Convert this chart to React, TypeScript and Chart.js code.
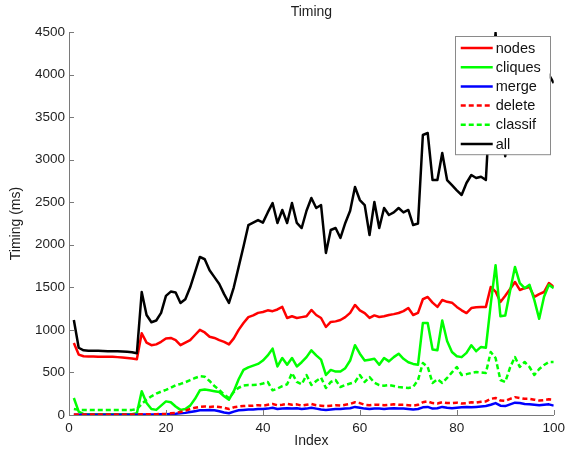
import React, { useEffect, useRef } from 'react';
import { Chart, registerables } from 'chart.js';

Chart.register(...registerables);

const indices = Array.from({ length: 100 }, (_, i) => i + 1);

const nodes = [
  845, 710, 690, 688, 686, 685, 685, 684, 683, 680,
  675, 670, 665, 655, 960, 850, 820, 830, 860, 900,
  905, 880, 820, 850, 880, 940, 1000, 970, 920, 905,
  880, 860, 830, 900, 1000, 1080, 1150, 1170, 1200, 1210,
  1230, 1220, 1240, 1270, 1140, 1160, 1140, 1150, 1160, 1234,
  1175, 1140, 1034, 1093, 1100, 1116, 1150, 1200, 1293, 1230,
  1198, 1140, 1170, 1152, 1160, 1175, 1185, 1198, 1220, 1257,
  1175, 1200, 1360, 1387, 1320, 1270, 1351, 1330, 1320, 1270,
  1230, 1198, 1257, 1265, 1270, 1270, 1504, 1450, 1328, 1400,
  1480, 1563, 1469, 1490, 1504, 1387, 1420, 1445, 1551, 1504,
];

const cliques = [
  200, 40, 10, 10, 10, 10, 10, 10, 10, 10,
  10, 10, 10, 20, 280, 140, 70, 60, 110, 160,
  150, 100, 60, 70, 110, 190, 290, 300, 290, 280,
  270, 220, 180, 280, 420, 530, 560, 580, 600, 640,
  700, 780, 570, 670, 590, 670, 570, 620, 680, 760,
  700, 650, 470, 530, 510, 510, 550, 640, 820, 720,
  640, 650, 660, 590, 670, 630, 680, 720, 660, 620,
  600, 590, 1080, 1080, 770, 760, 1110, 870, 740, 690,
  680, 730, 820, 750, 800, 790, 1300, 1760, 1160, 1170,
  1460, 1740, 1550, 1490, 1530, 1350, 1130, 1390, 1530, 1490,
];

const merge = [
  3, 3, 3, 3, 3, 3, 3, 3, 3, 3,
  3, 3, 3, 3, 5, 5, 5, 5, 8, 10,
  12, 15, 20, 25, 35, 45, 55, 55, 60, 55,
  45, 30, 20, 40, 55, 60, 65, 65, 70, 70,
  75, 85, 70, 75, 80, 75, 80, 70, 75, 85,
  75, 65, 60, 65, 70, 70, 75, 80, 95, 85,
  75, 70, 75, 75, 70, 75, 80, 75, 75, 70,
  65, 70, 90, 95, 75, 80, 95, 85, 80, 85,
  90, 95, 90, 95, 100, 105, 120, 140, 110, 105,
  125, 145, 140, 130, 125, 120, 115, 120, 125, 110,
];

const deleteT = [
  5, 5, 5, 5, 5, 5, 5, 5, 5, 5,
  5, 5, 5, 5, 8, 8, 8, 10, 12, 15,
  20, 25, 35, 50, 70, 85, 95, 100, 95, 100,
  95, 85, 70, 90, 100, 105, 110, 110, 115, 110,
  120, 130, 115, 120, 130, 120, 125, 110, 120, 130,
  115, 110, 105, 110, 115, 110, 120, 130, 150, 140,
  120, 115, 120, 120, 115, 120, 125, 120, 120, 115,
  110, 120, 150, 160, 140, 135, 150, 140, 140, 145,
  135, 140, 150, 145, 155, 160, 190, 200, 170, 165,
  190, 210, 200, 190, 190, 180, 170, 175, 185, 180,
];

const classif = [
  70, 60, 60, 60, 60, 60, 60, 60, 60, 60,
  60, 60, 60, 70, 130, 180, 220, 250, 275, 295,
  320, 350, 365, 385, 410, 435, 455, 450, 400, 340,
  295, 240, 200, 270, 320, 345, 352, 352, 355, 370,
  388, 290, 310, 340, 360, 494, 388, 360, 470, 352,
  400, 440, 317, 388, 411, 329, 352, 370, 388, 470,
  388, 446, 380, 352, 345, 352, 340, 329, 322, 317,
  330, 411, 611, 564, 376, 420, 376, 435, 500, 564,
  470, 480, 494, 505, 500, 494, 740, 670, 411, 388,
  560, 681, 564, 623, 564, 470, 540, 588, 623, 623,
];

const all = [
  1116, 790, 760, 755, 755, 755, 752, 750, 750, 748,
  745, 742, 738, 725, 1445, 1175, 1090, 1110, 1200, 1400,
  1450, 1440, 1316, 1360, 1500, 1680, 1857, 1830, 1700, 1620,
  1540, 1420, 1316, 1500, 1740, 1980, 2230, 2260, 2290, 2260,
  2380, 2490, 2256, 2409, 2256, 2490, 2256, 2197, 2400, 2550,
  2432, 2467, 1904, 2174, 2197, 2080, 2256, 2400, 2679, 2526,
  2467, 2115, 2503, 2197, 2432, 2350, 2380, 2432, 2380, 2409,
  2232, 2250, 3290, 3313, 2760, 2760, 3078, 2760, 2700, 2640,
  2585, 2726, 2820, 2785, 2800, 2761, 3800, 4490, 3500, 3040,
  3700, 4250, 3950, 3900, 3900, 3580, 3370, 3750, 4000, 3900,
];

const seriesLabels = ['nodes', 'cliques', 'merge', 'delete', 'classif', 'all'];
const seriesColors = ['#ff0000', '#00ff00', '#0000ff', '#ff0000', '#00ff00', '#000000'];
const seriesDashed = [false, false, false, true, true, false];
const seriesValues = [nodes, cliques, merge, deleteT, classif, all];

const xMin = 0;
const xMax = 100;
const xStep = 20;
const yMin = 0;
const yMax = 4500;
const yStep = 500;

const FONT = "Arial, 'Liberation Sans', Helvetica, sans-serif";
const TEXT = '#1e1e1e';
const AXIS = '#7a7a7a';

export default function App() {
  const ref = useRef<HTMLCanvasElement | null>(null);

  useEffect(() => {
    if (!ref.current) return;

    const inwardTicks = {
      id: 'inwardTicks',
      afterDraw(chart: any) {
        const { ctx, chartArea, scales } = chart;
        ctx.save();
        ctx.strokeStyle = AXIS;
        ctx.lineWidth = 1;
        const len = 5;
        scales.x.ticks.forEach((t: any) => {
          const px = Math.round(scales.x.getPixelForValue(t.value)) + 0.5;
          ctx.beginPath();
          ctx.moveTo(px, chartArea.bottom);
          ctx.lineTo(px, chartArea.bottom - len);
          ctx.stroke();
        });
        scales.y.ticks.forEach((t: any) => {
          const py = Math.round(scales.y.getPixelForValue(t.value)) + 0.5;
          ctx.beginPath();
          ctx.moveTo(chartArea.left, py);
          ctx.lineTo(chartArea.left + len, py);
          ctx.stroke();
        });
        ctx.restore();
      },
    };

    const boxLegend = {
      id: 'boxLegend',
      afterDraw(chart: any) {
        const { ctx, chartArea } = chart;
        const sets = chart.data.datasets;
        const rowH = 19.2;
        const boxW = 95;
        const boxH = rowH * sets.length + 3;
        const bx = chartArea.right - 4 - boxW;
        const by = chartArea.top + 4;
        ctx.save();
        ctx.fillStyle = '#ffffff';
        ctx.fillRect(bx, by, boxW, boxH);
        ctx.strokeStyle = '#8a8a8a';
        ctx.lineWidth = 1;
        ctx.strokeRect(Math.round(bx) + 0.5, Math.round(by) + 0.5, boxW, boxH);
        ctx.font = `14.5px ${FONT}`;
        ctx.textBaseline = 'middle';
        ctx.textAlign = 'left';
        sets.forEach((ds: any, i: number) => {
          const cy = by + 12 + i * rowH;
          ctx.strokeStyle = ds.borderColor;
          ctx.lineWidth = 2.5;
          ctx.setLineDash(ds.borderDash || []);
          ctx.beginPath();
          ctx.moveTo(bx + 6, cy);
          ctx.lineTo(bx + 38, cy);
          ctx.stroke();
          ctx.setLineDash([]);
          ctx.fillStyle = '#111';
          ctx.fillText(ds.label, bx + 41, cy + 0.5);
        });
        ctx.restore();
      },
    };

    const datasets = seriesLabels.map((label, i) => ({
      label,
      data: seriesValues[i].map((v, j) => ({ x: indices[j], y: v })),
      borderColor: seriesColors[i],
      backgroundColor: seriesColors[i],
      borderWidth: 2.5,
      borderDash: seriesDashed[i] ? [5, 3] : [],
      pointRadius: 0,
      tension: 0,
      fill: false,
      borderJoinStyle: 'round' as const,
      order: seriesLabels.length - i,
    }));

    const chart = new Chart(ref.current, {
      type: 'line',
      data: { datasets },
      plugins: [inwardTicks, boxLegend],
      options: {
        animation: false,
        responsive: true,
        maintainAspectRatio: false,
        layout: { padding: { top: 0, right: 14, left: 0, bottom: 0 } },
        font: { family: FONT },
        plugins: {
          legend: { display: false },
          tooltip: { enabled: false },
          title: {
            display: true,
            text: 'Timing',
            fullSize: false,
            color: TEXT,
            font: { family: FONT, size: 14, weight: 'normal' },
            padding: { top: 4, bottom: 11.2 },
          },
        },
        scales: {
          x: {
            type: 'linear',
            min: xMin,
            max: xMax,
            afterFit: (s: any) => { s.height = 39; },
            ticks: {
              stepSize: xStep,
              color: TEXT,
              font: { family: FONT, size: 13.5 },
              padding: 5,
              maxRotation: 0,
              callback: (v: any) => String(v),
            },
            grid: { display: true, drawOnChartArea: false, drawTicks: false },
            border: { display: true, color: AXIS, width: 1 },
            title: {
              display: true,
              text: 'Index',
              color: TEXT,
              font: { family: FONT, size: 14 },
              padding: { top: 0, bottom: 4 },
            },
          },
          y: {
            type: 'linear',
            min: yMin,
            max: yMax,
            afterFit: (s: any) => { s.width = 69; },
            ticks: {
              stepSize: yStep,
              color: TEXT,
              font: { family: FONT, size: 13.5 },
              padding: 4,
              callback: (v: any) => String(v),
            },
            grid: { display: true, drawOnChartArea: false, drawTicks: false },
            border: { display: true, color: AXIS, width: 1 },
            title: {
              display: true,
              text: 'Timing (ms)',
              color: TEXT,
              font: { family: FONT, size: 14 },
              padding: { top: 8, bottom: 0 },
            },
          },
        },
      },
    });

    return () => chart.destroy();
  }, []);

  return (
    <div style={{ position: 'fixed', left: 0, top: 0, width: 570, height: 454, background: '#fff' }}>
      <canvas ref={ref} />
    </div>
  );
}
